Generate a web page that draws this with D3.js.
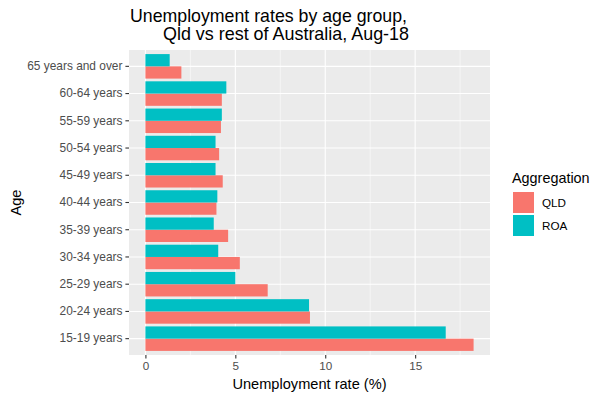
<!DOCTYPE html>
<html>
<head>
<meta charset="utf-8">
<script src="https://cdn.jsdelivr.net/npm/d3@7"></script>
<style>
  body { margin: 0; background: #fff; }
  text { font-family: "Liberation Sans", Arial, sans-serif; }
</style>
</head>
<body>
<svg id="chart" width="604" height="401"></svg>
<script>
// age groups, top to bottom as drawn
const ages = ["65 years and over", "60-64 years", "55-59 years", "50-54 years", "45-49 years",
  "40-44 years", "35-39 years", "30-34 years", "25-29 years", "20-24 years", "15-19 years"];
const groups = ["QLD", "ROA"];
const qld = [2.0, 4.25, 4.2, 4.1, 4.3, 3.95, 4.6, 5.25, 6.8, 9.15, 18.25];
const roa = [1.35, 4.5, 4.25, 3.9, 3.9, 4.0, 3.8, 4.05, 5.0, 9.1, 16.7];
const xTicks = [0, 5, 10, 15];
const xMinor = [2.5, 7.5, 12.5, 17.5];
const colours = { QLD: "#F8766D", ROA: "#00BFC4" };

const rows = ages.flatMap((age, i) => [
  { age, group: "QLD", value: qld[i] },
  { age, group: "ROA", value: roa[i] }
]);

const panel = { left: 129, top: 50, right: 490, bottom: 355 };
const svg = d3.select("#chart");

// ggplot style expansion of 5% on each side
const maxVal = d3.max(rows, d => d.value);
const x = d3.scaleLinear()
  .domain([-0.05 * maxVal, maxVal * 1.05])
  .range([panel.left, panel.right]);

const y = d3.scaleBand()
  .domain(ages)
  .range([panel.top, panel.bottom]);
// keep centres on an even step, with 0.6 of a step of padding at each end
const step = (panel.bottom - panel.top) / (ages.length - 1 + 1.2);
const yc = a => panel.top + (0.6 + ages.indexOf(a)) * step;
const barH = 0.45 * step;

svg.append("rect")
  .attr("x", panel.left).attr("y", panel.top)
  .attr("width", panel.right - panel.left).attr("height", panel.bottom - panel.top)
  .attr("fill", "#EBEBEB");

// grid
svg.append("g").selectAll("line").data(xMinor).join("line")
  .attr("x1", d => x(d)).attr("x2", d => x(d))
  .attr("y1", panel.top).attr("y2", panel.bottom)
  .attr("stroke", "#fff").attr("stroke-width", 0.55);
svg.append("g").selectAll("line").data(xTicks).join("line")
  .attr("x1", d => x(d)).attr("x2", d => x(d))
  .attr("y1", panel.top).attr("y2", panel.bottom)
  .attr("stroke", "#fff").attr("stroke-width", 1.1);
svg.append("g").selectAll("line").data(ages).join("line")
  .attr("x1", panel.left).attr("x2", panel.right)
  .attr("y1", d => yc(d)).attr("y2", d => yc(d))
  .attr("stroke", "#fff").attr("stroke-width", 1.1);

// bars: ROA above, QLD below the category centre
svg.append("g").selectAll("rect").data(rows).join("rect")
  .attr("x", x(0))
  .attr("y", d => d.group === "ROA" ? yc(d.age) - barH : yc(d.age))
  .attr("width", d => x(d.value) - x(0))
  .attr("height", barH)
  .attr("fill", d => colours[d.group]);

// x axis
const xAxis = svg.append("g")
  .attr("transform", `translate(0,${panel.bottom})`)
  .call(d3.axisBottom(x).tickValues(xTicks).tickSize(3.6).tickPadding(3).tickFormat(d3.format("d")));
xAxis.select(".domain").remove();
xAxis.selectAll("line").attr("stroke", "#333").attr("stroke-width", 1.1);
xAxis.selectAll("text").attr("fill", "#4D4D4D").style("font-size", "11.7px")
  .style("font-family", "'Liberation Sans', Arial, sans-serif");

// y axis
const yAxis = svg.append("g")
  .attr("transform", `translate(${panel.left},0)`)
  .call(d3.axisLeft(y).tickSize(3.6).tickPadding(3));
yAxis.select(".domain").remove();
yAxis.selectAll(".tick").attr("transform", d => `translate(0,${yc(d)})`);
yAxis.selectAll("line").attr("stroke", "#333").attr("stroke-width", 1.1);
yAxis.selectAll("text").attr("fill", "#4D4D4D").style("font-size", "11.9px")
  .style("font-family", "'Liberation Sans', Arial, sans-serif");

// titles
svg.append("text").attr("x", 130).attr("y", 22)
  .style("font-size", "18.2px").attr("fill", "#000")
  .attr("textLength", 277).attr("lengthAdjust", "spacingAndGlyphs")
  .text("Unemployment rates by age group,");
svg.append("text").attr("x", 163).attr("y", 40)
  .style("font-size", "18.2px").attr("fill", "#000")
  .attr("textLength", 246).attr("lengthAdjust", "spacingAndGlyphs")
  .text("Qld vs rest of Australia, Aug-18");

svg.append("text")
  .attr("x", (panel.left + panel.right) / 2).attr("y", 389)
  .attr("text-anchor", "middle").style("font-size", "14.6px")
  .text("Unemployment rate (%)");
svg.append("text")
  .attr("transform", `translate(21,${(panel.top + panel.bottom) / 2}) rotate(-90)`)
  .attr("text-anchor", "middle").style("font-size", "14.6px")
  .text("Age");

// legend
const legend = svg.append("g").attr("transform", "translate(512,0)");
legend.append("text").attr("x", 0).attr("y", 183)
  .style("font-size", "14.4px").text("Aggregation");
const keys = legend.selectAll("g.key").data(groups).join("g")
  .attr("class", "key")
  .attr("transform", (d, i) => `translate(0,${192 + i * 23})`);
keys.append("rect").attr("x", 1).attr("width", 21).attr("height", 21)
  .attr("fill", d => colours[d]);
keys.append("text").attr("x", 30).attr("y", 15)
  .style("font-size", "11.7px").text(d => d);
</script>
</body>
</html>
